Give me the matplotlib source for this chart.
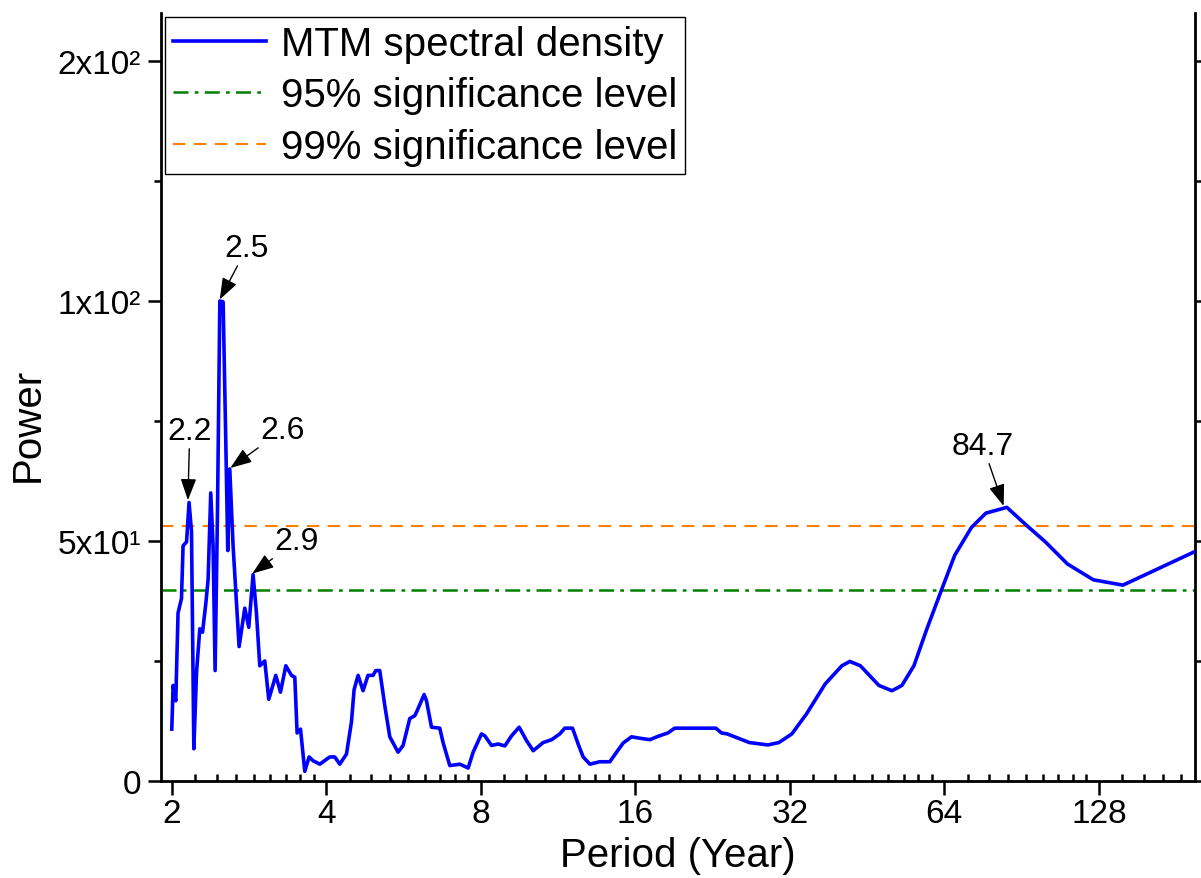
import matplotlib
matplotlib.use('Agg')
import matplotlib.pyplot as plt
from matplotlib.ticker import FixedLocator, FixedFormatter

plt.rcParams['font.family'] = ['Liberation Sans', 'DejaVu Sans']

# MTM spectrum
period = [2.000, 2.012, 2.036, 2.057, 2.089, 2.104, 2.137, 2.161, 2.185, 2.208,
          2.235, 2.268, 2.296, 2.330, 2.354, 2.382, 2.407, 2.429, 2.455, 2.481,
          2.518, 2.549, 2.571, 2.594, 2.633, 2.705, 2.775, 2.825, 2.880, 2.924,
          2.968, 3.035, 3.090, 3.189, 3.257, 3.336, 3.422, 3.473, 3.509, 3.563,
          3.632, 3.703, 3.770, 3.885, 4.063, 4.155, 4.249, 4.379, 4.478, 4.531,
          4.613, 4.717, 4.823, 4.934, 4.994, 5.084, 5.200, 5.318, 5.519, 5.645,
          5.817, 5.949, 6.011, 6.203, 6.270, 6.412, 6.655, 6.754, 6.961, 7.281,
          7.558, 7.730, 8.025, 8.145, 8.394, 8.646, 8.910, 9.183, 9.501, 9.822,
          10.12, 10.58, 10.99, 11.40, 11.66, 12.07, 12.38, 12.66, 13.05, 13.64,
          14.27, 14.71, 15.15, 15.73, 16.33, 17.08, 17.72, 18.51, 19.09, 22.96,
          23.55, 24.16, 26.69, 28.99, 30.46, 32.29, 34.50, 37.49, 40.41, 41.88,
          43.90, 47.72, 50.58, 52.90, 55.83, 59.18, 63.29, 67.03, 72.25, 77.11,
          84.70, 92.66, 100.7, 111.2, 124.9, 142.6, 197.0]
power = [10.8, 19.9, 16.7, 35.0, 38.0, 49.0, 49.8, 58.0, 52.0, 6.7,
         22.7, 31.7, 31.0, 37.0, 42.0, 60.0, 49.0, 23.0, 56.0, 100.0,
         99.8, 70.0, 48.0, 65.0, 49.0, 28.0, 36.0, 32.0, 43.0, 35.0,
         24.0, 25.0, 17.0, 22.0, 18.5, 24.0, 22.0, 21.6, 10.0, 10.8,
         2.0, 5.0, 4.2, 3.5, 5.0, 5.0, 3.5, 5.6, 12.3, 19.0,
         22.0, 18.8, 22.0, 22.0, 23.0, 23.0, 15.7, 9.2, 6.0, 7.4,
         13.0, 13.6, 14.6, 18.0, 16.7, 11.2, 11.0, 8.0, 3.2, 3.5,
         2.7, 6.0, 9.8, 9.4, 7.4, 7.7, 7.3, 9.4, 11.2, 8.4,
         6.3, 8.0, 8.6, 9.8, 11.0, 11.0, 7.7, 5.0, 3.5, 4.0,
         4.0, 6.0, 7.9, 9.2, 8.9, 8.6, 9.3, 10.0, 11.0, 11.0,
         10.0, 9.8, 8.0, 7.5, 8.0, 9.8, 14.0, 20.2, 24.0, 24.9,
         24.0, 19.9, 18.8, 19.9, 24.0, 31.7, 40.0, 47.0, 52.8, 55.8,
         57.0, 53.2, 49.8, 45.2, 41.9, 40.8, 47.8]

sig95 = 39.8
sig99 = 53.1

# annotated peaks: label, peak (x, y), text position (x, y)
peak_labels = ['2.2', '2.5', '2.6', '2.9', '84.7']
peak_xy = [(2.15, 58.5), (2.48, 100.3), (2.60, 65.2), (2.87, 43.2), (83.5, 57.3)]
label_xy = [(2.168, 72.9), (2.80, 111.0), (3.29, 73.1), (3.50, 50.0), (76.1, 69.8)]

xticks = [2, 4, 8, 16, 32, 64, 128]
yticks = [0, 50, 100, 150]
ytick_labels = ['0', '5x10¹', '1x10²', '2x10²']

fig = plt.figure(figsize=(12.01, 8.79), dpi=100)
ax = fig.add_axes([0.134, 0.1104, 0.861, 0.8737])

ax.plot(period, power, color='#0000ff', lw=2.6, label='MTM spectral density',
        solid_joinstyle='round', zorder=3)
ax.axhline(sig95, color='#008000', lw=1.8, ls=(0, (6, 2.5, 1.5, 2.5)),
           label='95% significance level')
ax.axhline(sig99, color='#ff8000', lw=1.5, ls=(0, (6, 4)),
           label='99% significance level')

ax.set_xscale('log', base=2)
ax.set_xlim(1.905, 197)
ax.set_ylim(0, 160)

ax.xaxis.set_major_locator(FixedLocator(xticks))
ax.xaxis.set_major_formatter(FixedFormatter([str(t) for t in xticks]))
minors = []
for k in range(0, 8):
    base = 2 ** k
    for i in range(1, 9):
        minors.append(base * (1 + i / 9))
ax.xaxis.set_minor_locator(FixedLocator(minors))
ax.xaxis.set_minor_formatter(FixedFormatter([''] * len(minors)))

ax.yaxis.set_major_locator(FixedLocator(yticks))
ax.yaxis.set_major_formatter(FixedFormatter(ytick_labels))
ax.yaxis.set_minor_locator(FixedLocator([25, 75, 125]))

ax.spines['top'].set_visible(False)
for s in ['left', 'right', 'bottom']:
    ax.spines[s].set_linewidth(2.0)

ax.tick_params(axis='x', which='major', direction='out', length=10, width=1.8,
               labelsize=24, pad=2)
ax.tick_params(axis='x', which='minor', direction='in', length=5, width=1.8)
ax.tick_params(axis='y', which='major', direction='out', length=9.5, width=1.8,
               labelsize=24, pad=5, right=True)
ax.tick_params(axis='y', which='minor', direction='out', length=5, width=1.8,
               right=True)

ax.set_xlabel('Period (Year)', fontsize=29)
ax.set_ylabel('Power', fontsize=29)
ax.xaxis.set_label_coords(0.5, -0.072)
ax.yaxis.set_label_coords(-0.11, 0.465)

for lab, pxy, txy in zip(peak_labels, peak_xy, label_xy):
    ax.annotate(lab, xy=pxy, xytext=txy, ha='center', va='center', fontsize=23,
                arrowprops=dict(arrowstyle='-|>,head_length=0.6,head_width=0.22',
                                color='black', lw=1.0, mutation_scale=22,
                                shrinkA=0, shrinkB=0))

leg = ax.legend(loc='upper left', fontsize=29, frameon=True, fancybox=False,
                framealpha=1, edgecolor='black', borderaxespad=0.1,
                borderpad=0.2, labelspacing=0.33, handlelength=2.3,
                handletextpad=0.37)
leg.get_frame().set_linewidth(1.0)

fig.savefig('out.png', dpi=100)
